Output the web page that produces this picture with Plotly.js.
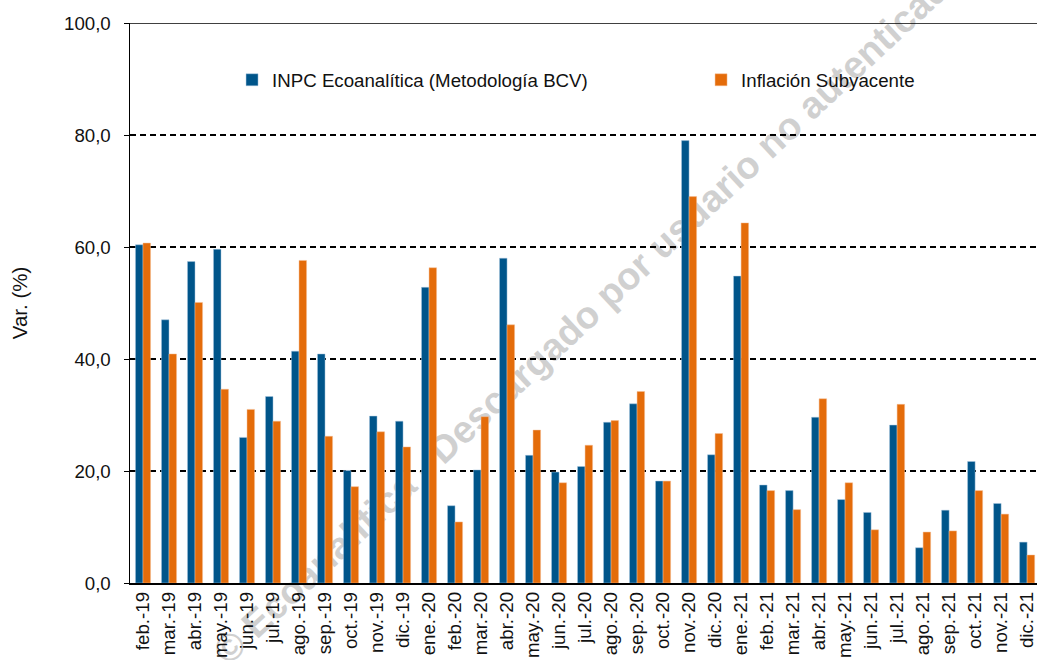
<!DOCTYPE html>
<html>
<head>
<meta charset="utf-8">
<script src="https://cdn.plot.ly/plotly-3.0.1.min.js"></script>
<style>
html,body{margin:0;padding:0;background:#fff;overflow:hidden}
#wrap{position:relative;width:1037px;height:660px;overflow:hidden}
#wm{position:absolute;left:590px;top:312px;transform:translate(-50%,-50%) rotate(-43deg);
  font-family:"Liberation Sans",Arial,sans-serif;font-weight:bold;font-size:38px;color:#d0d0d0;
  white-space:nowrap;z-index:0}
#chart{position:absolute;left:0;top:0;width:1037px;height:660px;z-index:1}
</style>
</head>
<body>
<div id="wrap">
<div id="wm">© Ecoanalítica - Descargado por usuario no autenticado</div>
<div id="chart"></div>
</div>
<script>
const categories = ["feb.-19","mar.-19","abr.-19","may.-19","jun.-19","jul.-19","ago.-19","sep.-19","oct.-19","nov.-19","dic.-19",
  "ene.-20","feb.-20","mar.-20","abr.-20","may.-20","jun.-20","jul.-20","ago.-20","sep.-20","oct.-20","nov.-20","dic.-20",
  "ene.-21","feb.-21","mar.-21","abr.-21","may.-21","jun.-21","jul.-21","ago.-21","sep.-21","oct.-21","nov.-21","dic.-21"];
const inpc = [60.4,47.0,57.4,59.6,26.0,33.3,41.4,40.9,20.1,29.8,28.9,
  52.8,13.8,20.2,58.0,22.8,19.8,20.8,28.7,32.0,18.2,79.0,22.9,
  54.8,17.5,16.5,29.6,14.9,12.6,28.2,6.3,13.0,21.7,14.2,7.3];
const subyacente = [60.7,40.9,50.1,34.6,31.0,28.9,57.6,26.2,17.2,27.0,24.3,
  56.3,10.9,29.7,46.1,27.3,17.9,24.6,29.0,34.2,18.2,69.0,26.7,
  64.3,16.5,13.1,32.9,17.9,9.5,31.9,9.1,9.3,16.5,12.3,5.0];
const seriesNames = ["INPC Ecoanalítica (Metodología BCV)", "Inflación Subyacente"];
const yTicks = [0,20,40,60,80,100];

const font = "Liberation Sans, Arial, sans-serif";
const fs = 18.7;
const traces = [
  {type:"bar", name:seriesNames[0], x:categories, y:inpc, legend:"legend",
    marker:{color:"#00558A", line:{width:0.6, color:"rgba(170,200,225,0.8)"}}},
  {type:"bar", name:seriesNames[1], x:categories, y:subyacente, legend:"legend2",
    marker:{color:"#E46C0A", line:{width:0.6, color:"rgba(245,190,150,0.8)"}}}
];
const legendBase = {orientation:"h", xanchor:"left", y:0.898, yanchor:"middle",
  font:{family:font, size:fs, color:"#111"}, bgcolor:"rgba(0,0,0,0)"};
const layout = {
  width:1037, height:660,
  margin:{l:130, r:0, t:23, b:77},
  paper_bgcolor:"rgba(0,0,0,0)", plot_bgcolor:"rgba(0,0,0,0)",
  separators:",.",
  font:{family:font, size:fs, color:"#111"},
  barmode:"group", bargap:0.42, bargroupgap:0,
  showlegend:true,
  legend:Object.assign({}, legendBase, {x:0.1125}),
  legend2:Object.assign({}, legendBase, {x:0.6296}),
  xaxis:{type:"category", range:[-0.5, 34.38], tickangle:-90, showgrid:false, ticks:"",
    showline:true, linecolor:"#000", linewidth:1.5, tickfont:{family:font, size:fs, color:"#111"},
    fixedrange:true},
  yaxis:{range:[0,100], tickvals:yTicks, tickformat:".1f", showgrid:true, gridcolor:"#000",
    gridwidth:1.2, griddash:"6px,4px", zeroline:false, showline:true, linecolor:"#000", linewidth:1.5,
    ticks:"outside", ticklen:5, tickcolor:"#000", ticklabelstandoff:9,
    tickfont:{family:font, size:fs, color:"#111"},
    title:{text:"Var. (%)", font:{family:font, size:20.5, color:"#111"}, standoff:31},
    fixedrange:true},
  shapes:[{type:"line", xref:"paper", yref:"y", x0:0, x1:1, y0:100, y1:100, line:{color:"#000", width:1.5}}]
};
Plotly.newPlot("chart", traces, layout, {displayModeBar:false, staticPlot:true});
</script>
</body>
</html>
